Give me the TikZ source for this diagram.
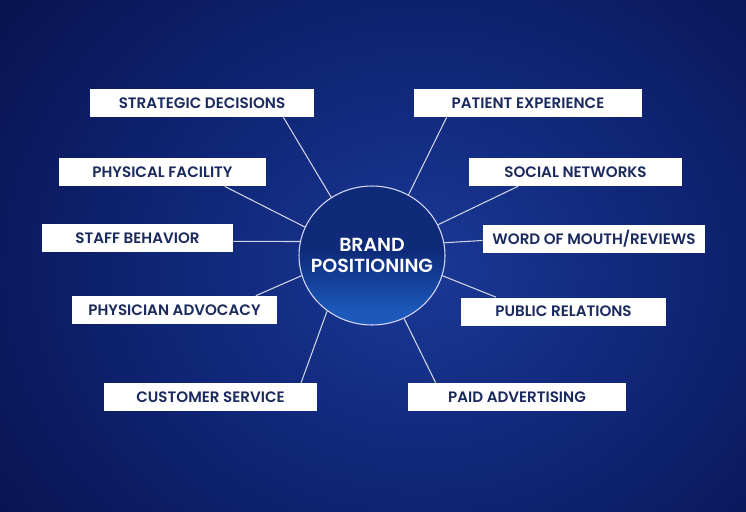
\documentclass[tikz,border=0pt]{standalone}
\usepackage{fontspec}
\setmainfont{Poppins}[BoldFont={Poppins SemiBold}]
\usepackage{xcolor}
\usetikzlibrary{shapes.geometric, positioning}

\definecolor{bgin}{HTML}{1A3996}
\definecolor{bgmid}{HTML}{0E2270}
\definecolor{bgout}{HTML}{02042A}
\definecolor{orbtop}{HTML}{0E2A78}
\definecolor{orbbot}{HTML}{1B58BA}
\definecolor{boxtext}{HTML}{1B2A5E}
\definecolor{spoke}{HTML}{D0D5E6}

\pgfdeclareradialshading{bgglow}{\pgfpoint{0bp}{0bp}}{color(0bp)=(bgin); color(12bp)=(bgmid); color(31bp)=(bgout); color(50bp)=(bgout)}
\pgfdeclareverticalshading{orbshade}{100bp}{color(0bp)=(orbbot); color(30bp)=(orbbot); color(52bp)=(orbtop); color(100bp)=(orbtop)}

\tikzset{
  tag/.style={draw=none, fill=white, text=boxtext, minimum height=0.56cm, inner sep=0pt,
    font=\fontsize{8.6}{10}\selectfont\bfseries},
  link/.style={draw=spoke, line width=0.6pt}
}

\begin{document}
\begin{tikzpicture}[x=0.02cm, y=-0.02cm]
        \useasboundingbox (0,0) rectangle (746,511);

        % Fond degrade
        \begin{scope}
          \clip (0,0) rectangle (746,511);
          \shade[shading=bgglow] (-200,-260) rectangle (1040,800);
        \end{scope}

        % Cercle central
        \node[ellipse, minimum width=2.92cm, minimum height=2.78cm, inner sep=0pt,
              draw=white!85!blue, line width=0.6pt, shading=orbshade] (brand) at (372,255.5) {};
        \node[text=white, align=center, font=\fontsize{10.8}{12}\selectfont\bfseries]
              (brandtext) at (brand.center) {BRAND\\POSITIONING};

        % Etiquettes a gauche
        \node[tag, minimum width=4.48cm] (strategic) at (202,103) {STRATEGIC DECISIONS};
        \node[tag, minimum width=4.14cm] (facility) at (162.5,172) {PHYSICAL FACILITY};
        \node[tag, minimum width=3.82cm] (staff) at (137.5,238) {STAFF BEHAVIOR};
        \node[tag, minimum width=4.10cm] (advocacy) at (174.5,310) {PHYSICIAN ADVOCACY};
        \node[tag, minimum width=4.26cm] (service) at (210.5,397) {CUSTOMER SERVICE};

        % Etiquettes a droite
        \node[tag, minimum width=4.56cm] (patient) at (528,103) {PATIENT EXPERIENCE};
        \node[tag, minimum width=4.26cm] (social) at (575.5,172) {SOCIAL NETWORKS};
        \node[tag, minimum width=4.44cm] (mouth) at (594,238.5) {WORD OF MOUTH/REVIEWS};
        \node[tag, minimum width=4.10cm] (relations) at (563.5,311.5) {PUBLIC RELATIONS};
        \node[tag, minimum width=4.36cm] (paid) at (517,397) {PAID ADVERTISING};

        % Rayons
        \draw[link] (strategic.-10.2) -- (brand.125.2);
        \draw[link] (facility.-13.7) -- (brand.157.7);
        \draw[link] (staff.-2.2) -- (brand.169.3);
        \draw[link] (advocacy.10.8) -- (brand.196.8);
        \draw[link] (service.9.8) -- (brand.231.9);
        \draw[link] (patient.190.5) -- (brand.59.7);
        \draw[link] (social.194.2) -- (brand.25.7);
        \draw[link] (mouth.181.7) -- (brand.10.7);
        \draw[link] (relations.168.4) -- (brand.-16.6);
        \draw[link] (paid.170) -- (brand.-63);

    \end{tikzpicture}
\end{document}
